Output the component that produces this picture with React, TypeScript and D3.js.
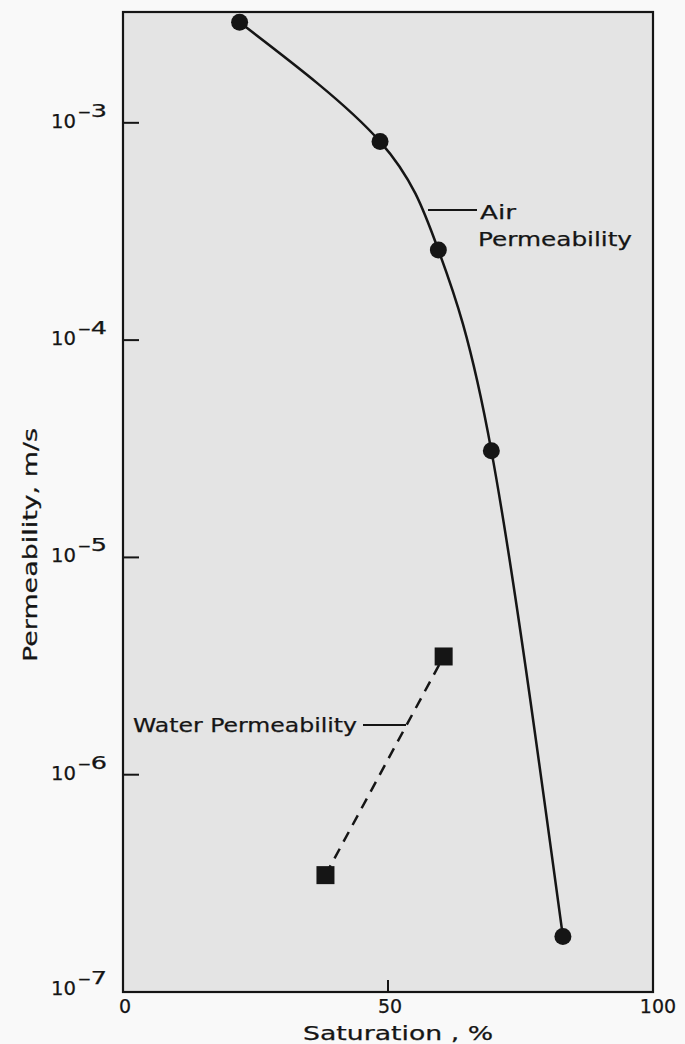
import React from "react";
import * as d3 from "d3";

const airSaturation = [22, 48.5, 59.5, 69.5, 83];
const airPermeability = [2.9e-3, 8.2e-4, 2.6e-4, 3.1e-5, 1.8e-7];
const waterSaturation = [38.2, 60.5];
const waterPermeability = [3.45e-7, 3.5e-6];
const yTickExps = [-3, -4, -5, -6, -7];
const xTicks = [0, 50, 100];

const W = 685;
const H = 1044;
const FONT = "'DejaVu Sans', sans-serif";
const INK = "#151515";

export default function App() {
  const left = 123, right = 653, top = 12, bottom = 992;
  const x = d3.scaleLinear().domain([0, 100]).range([left, right]);
  const y = d3.scaleLog().domain([1e-7, Math.pow(10, -2.49)]).range([bottom, top]);

  const air = airSaturation.map((s, i) => [x(s), y(airPermeability[i])] as [number, number]);
  const water = waterSaturation.map((s, i) => [x(s), y(waterPermeability[i])] as [number, number]);
  const airLine = d3.line().curve(d3.curveNatural)(air) || "";
  const waterLine = d3.line()(water) || "";

  const textStyle = { fontFamily: FONT, fill: INK, stroke: INK, strokeWidth: 0.25 } as const;

  return (
    <div style={{ position: "absolute", left: 0, top: 0 }}>
      <svg width={W} height={H} style={{ display: "block", background: "#f9f9f9" }}>
        <rect x={left} y={top} width={right - left} height={bottom - top} fill="#e4e4e4" />
        {yTickExps.map((e) => (
          <line key={e} x1={left} x2={left + 16} y1={y(Math.pow(10, e))} y2={y(Math.pow(10, e))} stroke={INK} strokeWidth={2} />
        ))}
        <line x1={x(50)} x2={x(50)} y1={bottom} y2={bottom - 12} stroke={INK} strokeWidth={2} />
        <rect x={left} y={top} width={right - left} height={bottom - top} fill="none" stroke={INK} strokeWidth={2.2} />

        {yTickExps.map((e) => {
          const ty = y(Math.pow(10, e));
          const base = e === -7 ? ty + 3 : ty + 5;
          return (
            <g key={e} {...textStyle}>
              <text x={51} y={base} fontSize={20} textLength={25} lengthAdjust="spacingAndGlyphs">10</text>
              <text x={78} y={base - 11} fontSize={17} textLength={29} lengthAdjust="spacingAndGlyphs">{"\u2013" + String(-e)}</text>
            </g>
          );
        })}

        {xTicks.map((t) => (
          <text key={t} x={t === 100 ? x(t) + 5 : t === 0 ? x(t) + 2 : x(t) + 2} y={1013} fontSize={19} textAnchor="middle" {...textStyle}>
            {t}
          </text>
        ))}

        <text x={303} y={1040} fontSize={19} textLength={190} lengthAdjust="spacingAndGlyphs" {...textStyle}>
          Saturation , %
        </text>
        <text transform="translate(37,662) rotate(-90)" x={0} y={0} fontSize={19} textLength={234} lengthAdjust="spacingAndGlyphs" {...textStyle}>
          Permeability, m/s
        </text>

        <path d={airLine} fill="none" stroke={INK} strokeWidth={2.5} />
        {air.map((p, i) => (
          <circle key={i} cx={p[0]} cy={p[1]} r={8.5} fill={INK} />
        ))}

        <path d={waterLine} fill="none" stroke={INK} strokeWidth={2.5} strokeDasharray="11,8" />
        {water.map((p, i) => (
          <rect key={i} x={p[0] - 9} y={p[1] - 9} width={18} height={18} fill={INK} />
        ))}

        <line x1={428} x2={477} y1={210} y2={210} stroke={INK} strokeWidth={2} />
        <text x={480} y={219} fontSize={20} textLength={36} lengthAdjust="spacingAndGlyphs" {...textStyle}>Air</text>
        <text x={478} y={246} fontSize={20} textLength={154} lengthAdjust="spacingAndGlyphs" {...textStyle}>Permeability</text>

        <text x={133} y={732} fontSize={20} textLength={224} lengthAdjust="spacingAndGlyphs" {...textStyle}>Water Permeability</text>
        <line x1={363} x2={406} y1={725} y2={725} stroke={INK} strokeWidth={2} />
      </svg>
    </div>
  );
}
